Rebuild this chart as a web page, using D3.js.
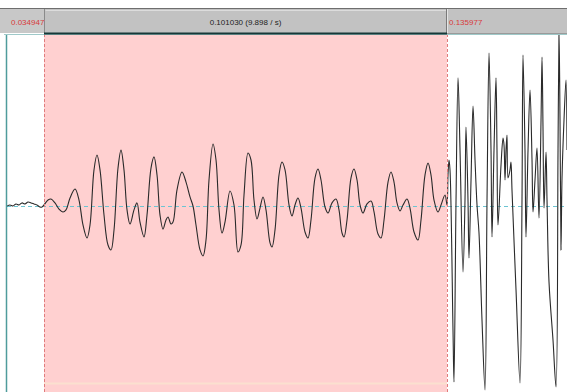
<!DOCTYPE html>
<html>
<head>
<meta charset="utf-8">
<script src="https://cdn.jsdelivr.net/npm/d3@7"></script>
<style>
    body { margin: 0; background: #ffffff; }
    #chart { width: 567px; height: 392px; }
    svg { display: block; }
</style>
</head>
<body>
<div id="chart"><svg width="567" height="392"></svg></div>
<script>

// time window shown (ms) and the selection
const viewStart = 25.67;
const viewEnd = 166.06;
const selStart = 34.947;
const selEnd = 135.977;

// waveform samples: time (ms) and amplitude
const sampleTimes = [
    25.67, 26.42, 27.18, 27.93, 28.68, 29.43, 30.18, 30.94, 31.69, 32.44,
    33.19, 33.94, 34.45, 34.95, 35.95, 36.70, 37.70, 38.71, 39.71, 40.46,
    41.47, 42.72, 43.72, 44.72, 45.73, 46.48, 47.48, 48.23, 48.99, 49.99,
    50.99, 51.74, 52.50, 53.50, 54.25, 55.00, 55.76, 56.51, 57.51, 58.26,
    59.01, 60.02, 60.77, 61.77, 62.52, 63.28, 64.03, 64.78, 65.53, 66.03,
    66.79, 67.29, 68.29, 69.54, 70.55, 71.55, 72.30, 73.05, 74.06, 74.81,
    75.56, 76.31, 77.32, 78.07, 78.82, 79.57, 80.32, 81.58, 82.58, 83.58,
    84.34, 85.09, 86.09, 86.84, 87.59, 88.35, 89.10, 89.85, 90.60, 91.61,
    92.11, 92.86, 93.86, 94.61, 95.37, 96.37, 97.12, 97.87, 98.62, 99.38,
    100.38, 101.13, 101.88, 102.89, 103.64, 104.39, 105.39, 106.15, 107.15, 108.15,
    108.90, 109.66, 110.16, 110.91, 111.91, 112.66, 113.42, 114.17, 114.92, 115.92,
    116.93, 117.68, 118.68, 119.43, 120.19, 121.19, 121.94, 122.69, 123.44, 124.20,
    124.95, 125.95, 126.70, 127.71, 128.71, 129.46, 130.46, 131.22, 131.97, 132.72,
    133.72, 134.48, 135.48, 135.98,
    136.23, 136.48, 136.73, 137.48, 137.73, 138.24, 138.74, 139.24, 139.99, 140.49,
    140.74, 141.24, 141.49, 142.00, 142.50, 143.00, 143.50, 144.00, 144.75, 145.51,
    146.01, 146.51, 147.01, 147.26, 147.76, 148.26, 148.51, 148.76, 149.52, 150.02,
    150.27, 150.52, 150.77, 151.02, 151.27, 151.77, 152.02, 152.27, 153.28, 154.28,
    154.78, 155.03, 155.53, 155.78, 156.29, 156.79, 157.29, 157.54, 158.04, 158.54,
    159.04, 159.55, 159.80, 160.05, 160.30, 160.80, 161.05, 161.55, 162.55, 163.31,
    163.81, 164.06, 164.31, 164.56, 164.81, 165.31, 165.81, 166.06
];

const sampleValues = [
    0, 0.006, 0, 0.012, 0.006, 0.018, 0.012, 0.023, 0.018, 0.012,
    0.006, -0.006, -0.006, 0.006, 0.035, 0.041, 0.018, -0.018, -0.035, -0.023,
    0.047, 0.099, 0.035, -0.111, -0.187, -0.111, 0.211, 0.298, 0.211, -0.053,
    -0.228, -0.257, -0.140, 0.222, 0.327, 0.211, -0.023, -0.105, -0.023, 0.018,
    -0.094, -0.181, -0.053, 0.222, 0.287, 0.181, -0.053, -0.135, -0.082, -0.064,
    -0.105, -0.094, 0.094, 0.199, 0.140, 0.053, 0, -0.111, -0.257, -0.292,
    -0.199, 0.152, 0.363, 0.269, -0.023, -0.158, -0.094, 0.088, 0.006, -0.269,
    -0.228, 0.064, 0.310, 0.269, 0.035, -0.076, -0.012, 0.053, -0.023, -0.216,
    -0.240, -0.140, 0.181, 0.257, 0.211, 0.006, -0.058, 0.006, 0.047, -0.012,
    -0.152, -0.187, -0.082, 0.164, 0.216, 0.152, -0.006, -0.041, 0.018, 0.041,
    -0.023, -0.158, -0.181, -0.082, 0.164, 0.216, 0.152, 0.006, -0.041, 0.012,
    0.029, -0.035, -0.164, -0.187, -0.082, 0.140, 0.199, 0.140, 0.018, -0.029,
    0.006, 0.041, -0.012, -0.152, -0.199, -0.082, 0.181, 0.251, 0.181, 0.035,
    -0.035, 0.006, 0.064, 0.006,
    0.181, 0.269, 0.211, -0.725, -1.029, 0.035, 0.749, 0.327, -0.386, 0.035,
    0.462, 0.035, -0.304, 0.152, 0.585, 0.269, 0.006, -0.158, -0.667, -1.076,
    0.035, 0.895, 0.327, -0.181, 0.327, 0.749, 0.327, -0.111, 0.240, 0.398,
    0.357, 0.152, 0.327, 0.415, 0.164, 0.211, 0.257, 0.094, -0.491, -1.035,
    0.035, 0.883, 0.327, -0.181, 0.327, 0.678, 0.269, -0.035, 0.152, 0.339,
    -0.070, 0.503, 0.871, 0.444, -0.012, 0.316, 0.035, -0.444, -0.784, -1.058,
    0.327, 1.029, 0.503, -0.257, 0.164, 0.503, 0.737, 0.327
];

const data = sampleTimes.map((t, i) => ({time: t, value: sampleValues[i]}));

drawWave(data);

function drawWave(data) {

    /**********************
    ***** BASIC SETUP *****
    **********************/

    const width = 567;
    const height = 392;
    const bar = {top: 9, bottom: 33};
    const plot = {left: 7, right: 567, top: 34, bottom: 392};

    const svg = d3.select("#chart").select("svg");

    const colorRed = "#d83a3a";
    const colorFrame = "#4f9c9c";

    /***********************
    ***** X & Y SCALES *****
    ***********************/

    let xScale = d3.scaleLinear()
        .domain([viewStart, viewEnd])
        .range([plot.left, plot.right]);

    // zero line sits at y = 206, full scale 171px
    let yScale = d3.scaleLinear()
        .domain([-1, 1])
        .range([377, 35]);

    /*************************
    ***** PLOT BACKGROUND ****
    *************************/

    svg.append("rect")
        .attr("x", 0).attr("y", 0)
        .attr("width", width).attr("height", height)
        .style("fill", "#ffffff");

    // selected part
    svg.append("rect")
        .attr("x", xScale(selStart))
        .attr("y", plot.top)
        .attr("width", xScale(selEnd) - xScale(selStart))
        .attr("height", plot.bottom - plot.top)
        .style("fill", "#ffd0d0");

    svg.append("line")
        .attr("x1", xScale(selStart)).attr("x2", xScale(selEnd))
        .attr("y1", 383.5).attr("y2", 383.5)
        .attr("stroke", "#fbe0cf")
        .attr("stroke-width", 2);

    // zero line
    svg.append("line")
        .attr("x1", plot.left).attr("x2", plot.right)
        .attr("y1", yScale(0) + 0.5).attr("y2", yScale(0) + 0.5)
        .attr("stroke", "#6cc4d2")
        .attr("stroke-width", 1)
        .attr("stroke-dasharray", "4,3");

    /*******************
    ***** WAVEFORM *****
    *******************/

    svg.append("clipPath")
        .attr("id", "plotClip")
        .append("rect")
        .attr("x", plot.left).attr("y", plot.top)
        .attr("width", plot.right - plot.left)
        .attr("height", plot.bottom - plot.top);

    let line = d3.line()
        .x(d => xScale(d.time))
        .y(d => yScale(d.value))
        .curve(d3.curveCatmullRom.alpha(0.5));

    svg.append("path")
        .datum(data)
        .attr("clip-path", "url(#plotClip)")
        .attr("d", line)
        .attr("fill", "none")
        .attr("stroke", "#2a2a2a")
        .attr("stroke-width", 1.1);

    // selection edges
    [selStart, selEnd].forEach(function(t) {
        svg.append("line")
            .attr("x1", Math.round(xScale(t)) + 0.5)
            .attr("x2", Math.round(xScale(t)) + 0.5)
            .attr("y1", plot.top)
            .attr("y2", plot.bottom)
            .attr("stroke", "#e07c7c")
            .attr("stroke-width", 1)
            .attr("stroke-dasharray", "3,2");
    });

    // plot frame
    svg.append("line")
        .attr("x1", plot.left - 0.5).attr("x2", plot.left - 0.5)
        .attr("y1", plot.top).attr("y2", plot.bottom)
        .attr("stroke", colorFrame)
        .attr("stroke-width", 1.5);

    svg.append("line")
        .attr("x1", 4).attr("x2", plot.right)
        .attr("y1", plot.top + 0.5).attr("y2", plot.top + 0.5)
        .attr("stroke", "#9fc9c9")
        .attr("stroke-width", 1);

    /*********************
    ***** TOP BUTTONS ****
    *********************/

    let x0 = 0;
    let x1 = Math.round(xScale(selStart));
    let x2 = Math.round(xScale(selEnd));
    let x3 = width;

    svg.append("line")
        .attr("x1", 0).attr("x2", width)
        .attr("y1", bar.top - 0.5).attr("y2", bar.top - 0.5)
        .attr("stroke", "#6e6e6e");

    svg.append("rect")
        .attr("x", x0).attr("y", bar.top)
        .attr("width", x3 - x0).attr("height", bar.bottom - bar.top)
        .style("fill", "#c2c2c2");

    // left cell slightly lighter
    svg.append("rect")
        .attr("x", x0).attr("y", bar.top)
        .attr("width", x1 - x0).attr("height", bar.bottom - bar.top)
        .style("fill", "#c8c8c8");

    // button edges
    svg.append("line")
        .attr("x1", x1 + 0.5).attr("x2", x1 + 0.5)
        .attr("y1", bar.top).attr("y2", bar.bottom)
        .attr("stroke", "#8a8a8a");
    svg.append("line")
        .attr("x1", x1 + 1.5).attr("x2", x2 - 1)
        .attr("y1", bar.top + 1.5).attr("y2", bar.top + 1.5)
        .attr("stroke", "#dcdcdc");
    svg.append("line")
        .attr("x1", x2 - 0.5).attr("x2", x2 - 0.5)
        .attr("y1", bar.top).attr("y2", bar.bottom)
        .attr("stroke", "#7a7a7a");
    svg.append("line")
        .attr("x1", x2 + 0.5).attr("x2", x2 + 0.5)
        .attr("y1", bar.top).attr("y2", bar.bottom)
        .attr("stroke", "#e4e4e4");

    // dark rule under the selected button
    svg.append("line")
        .attr("x1", x1).attr("x2", x2)
        .attr("y1", bar.bottom + 0.5).attr("y2", bar.bottom + 0.5)
        .attr("stroke", "#173838")
        .attr("stroke-width", 2);
    svg.append("line")
        .attr("x1", x2).attr("x2", x3)
        .attr("y1", bar.bottom + 0.5).attr("y2", bar.bottom + 0.5)
        .attr("stroke", "#9a9a9a");

    /*****************
    ***** LABELS *****
    *****************/

    const dur = (selEnd - selStart) / 1000;
    const fmt = d3.format(".6f");

    let labels = [
        {text: fmt(selStart / 1000), x: 11, anchor: "start", color: colorRed},
        {text: fmt(dur) + " (" + (1 / dur).toFixed(3) + " / s)", x: (x1 + x2) / 2, anchor: "middle", color: "#222222"},
        {text: fmt(selEnd / 1000), x: x2 + 2, anchor: "start", color: colorRed}
    ];

    svg.selectAll(".barLabel")
        .data(labels)
        .enter()
        .append("text")
        .attr("class", "barLabel")
        .attr("x", d => d.x)
        .attr("y", 24.5)
        .attr("text-anchor", d => d.anchor)
        .style("font-family", "Liberation Sans, Arial, sans-serif")
        .style("font-size", "8px")
        .style("fill", d => d.color)
        .text(d => d.text);
}

</script>
</body>
</html>
